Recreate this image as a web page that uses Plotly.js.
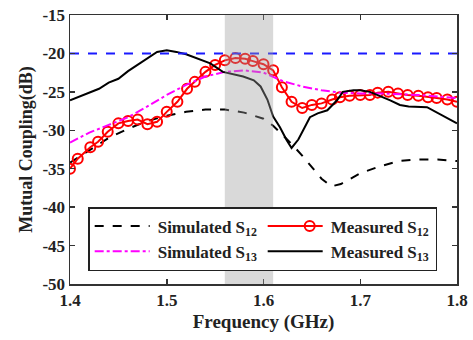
<!DOCTYPE html>
<html>
<head>
<meta charset="utf-8">
<script src="https://cdn.plot.ly/plotly-3.0.1.min.js"></script>
<style>html,body{margin:0;padding:0;background:#fff}#chart{width:473px;height:340px}</style>
</head>
<body>
<div id="chart"></div>
<script>
// Simulated S12
const simS12_f = [1.40,1.42,1.44,1.46,1.48,1.50,1.52,1.54,1.56,1.58,1.60,1.61,1.62,1.63,1.64,1.65,1.66,1.67,1.68,1.69,1.70,1.72,1.74,1.76,1.78,1.80];
const simS12_v = [-34.2,-32.6,-31.0,-29.8,-28.8,-28.1,-27.6,-27.3,-27.3,-27.7,-28.5,-29.4,-30.6,-31.9,-33.3,-34.8,-36.3,-37.3,-37.0,-36.3,-35.6,-34.7,-34.0,-33.8,-33.8,-34.0];
// Simulated S13
const simS13_f = [1.40,1.42,1.44,1.46,1.48,1.50,1.52,1.54,1.56,1.58,1.60,1.62,1.64,1.66,1.68,1.70,1.72,1.74,1.76,1.78,1.80];
const simS13_v = [-31.6,-30.3,-29.3,-28.3,-26.9,-25.4,-24.1,-23.0,-22.4,-22.2,-22.5,-23.6,-24.3,-24.8,-25.1,-25.2,-25.2,-25.3,-25.4,-25.6,-25.8];
// Measured S12
const meaS12_f = [1.400,1.408,1.421,1.429,1.439,1.450,1.460,1.470,1.480,1.490,1.500,1.511,1.521,1.529,1.540,1.550,1.560,1.571,1.581,1.589,1.600,1.610,1.619,1.629,1.640,1.650,1.660,1.671,1.679,1.689,1.700,1.710,1.718,1.729,1.739,1.749,1.760,1.770,1.779,1.790,1.800];
const meaS12_v = [-35.0,-33.7,-32.2,-31.5,-30.2,-29.1,-28.8,-28.6,-29.2,-28.9,-27.6,-26.3,-24.6,-23.7,-22.4,-21.5,-20.9,-20.6,-20.7,-21.0,-21.4,-22.2,-24.4,-26.3,-27.1,-26.7,-26.5,-26.0,-25.7,-25.5,-25.4,-25.4,-25.1,-25.0,-25.2,-25.4,-25.5,-25.7,-25.8,-26.0,-26.3];
// Measured S13
const meaS13_f = [1.400,1.410,1.420,1.430,1.440,1.450,1.460,1.470,1.480,1.490,1.500,1.510,1.520,1.530,1.545,1.558,1.570,1.579,1.590,1.597,1.604,1.610,1.617,1.624,1.629,1.636,1.641,1.648,1.656,1.666,1.676,1.682,1.693,1.700,1.710,1.720,1.731,1.741,1.750,1.769,1.779,1.793,1.800];
const meaS13_v = [-26.1,-25.6,-25.1,-24.6,-23.8,-23.3,-22.3,-21.5,-20.6,-19.8,-19.6,-19.8,-20.1,-20.6,-21.3,-22.4,-22.7,-23.0,-23.5,-24.3,-26.0,-28.2,-29.6,-31.3,-32.3,-31.2,-30.0,-28.3,-27.8,-27.4,-26.1,-25.0,-24.8,-24.8,-25.0,-25.5,-26.1,-26.7,-26.9,-27.0,-27.7,-28.6,-29.1];
// Reference level and band
const refLevel = -20;
const bandFreq = [1.56, 1.61];
const xTicks = [1.4, 1.5, 1.6, 1.7, 1.8];
const yTicks = [-50, -45, -40, -35, -30, -25, -20, -15];

const font = 'Liberation Serif, Times New Roman, serif';

const traces = [
  {x: simS12_f, y: simS12_v, mode: 'lines', name: '<b>Simulated S<sub>12</sub></b>',
   line: {color: '#000', width: 2, dash: 'dash'}},
  {x: meaS12_f, y: meaS12_v, mode: 'lines+markers', name: '<b>Measured S<sub>12</sub></b>',
   line: {color: '#ff0000', width: 2},
   marker: {symbol: 'circle-open', size: 10, color: '#ff0000', line: {width: 2, color: '#ff0000'}}},
  {x: simS13_f, y: simS13_v, mode: 'lines', name: '<b>Simulated S<sub>13</sub></b>',
   line: {color: '#ff00ff', width: 2, dash: 'dashdot'}},
  {x: meaS13_f, y: meaS13_v, mode: 'lines', name: '<b>Measured S<sub>13</sub></b>',
   line: {color: '#000', width: 2}},
  {x: [xTicks[0], xTicks[xTicks.length-1]], y: [refLevel, refLevel], mode: 'lines', showlegend: false,
   line: {color: '#1a1aff', width: 2, dash: 'dash'}, hoverinfo: 'skip'}
];

const axisCommon = {
  showline: true, linecolor: '#333', linewidth: 1.5, mirror: 'ticks',
  ticks: 'inside', ticklen: 5, tickwidth: 1.5, tickcolor: '#333',
  showgrid: false, zeroline: false,
  tickfont: {family: font, size: 17, color: '#222'}
};

const layout = {
  width: 473, height: 340,
  margin: {l: 70, r: 16, t: 15, b: 56},
  paper_bgcolor: '#fff', plot_bgcolor: '#fff',
  showlegend: true,
  xaxis: Object.assign({}, axisCommon, {
    range: [1.4, 1.8], tickvals: xTicks, ticktext: xTicks.map(v => '<b>' + v.toFixed(1) + '</b>'),
    title: {text: '<b>Frequency (GHz)</b>', font: {family: font, size: 19, color: '#222'}, standoff: 6}
  }),
  yaxis: Object.assign({}, axisCommon, {
    range: [-50, -15], tickvals: yTicks, ticktext: yTicks.map(v => '<b>' + v + '</b>'),
    title: {text: '<b>Mutual Coupling(dB)</b>', font: {family: font, size: 18, color: '#222'}, standoff: 5}
  }),
  shapes: [{
    type: 'rect', xref: 'x', yref: 'paper', x0: bandFreq[0], x1: bandFreq[1], y0: 0, y1: 1,
    fillcolor: '#9a9a9a', opacity: 0.38, line: {width: 0}, layer: 'above'
  }],
  legend: {
    x: 0.047, y: 0.286, xanchor: 'left', yanchor: 'top',
    orientation: 'h', entrywidth: 100, entrywidthmode: 'pixels',
    bgcolor: '#fff', bordercolor: '#222', borderwidth: 1.5,
    font: {family: font, size: 17, color: '#222'},
    itemwidth: 58, tracegroupgap: 0
  }
};

function tweakLegend(gd) {
  // lengthen legend symbol lines and centre the marker on them
  gd.querySelectorAll('.legend .legendlines path').forEach(function (p) { p.setAttribute('d', 'M5,0h55'); });
  gd.querySelectorAll('.legend .legendpoints').forEach(function (g) {
    g.setAttribute('transform', 'translate(13,0)');
  });
}

Plotly.newPlot('chart', traces, layout, {displayModeBar: false, staticPlot: true}).then(function (gd) {
  tweakLegend(gd);
});
</script>
</body>
</html>
